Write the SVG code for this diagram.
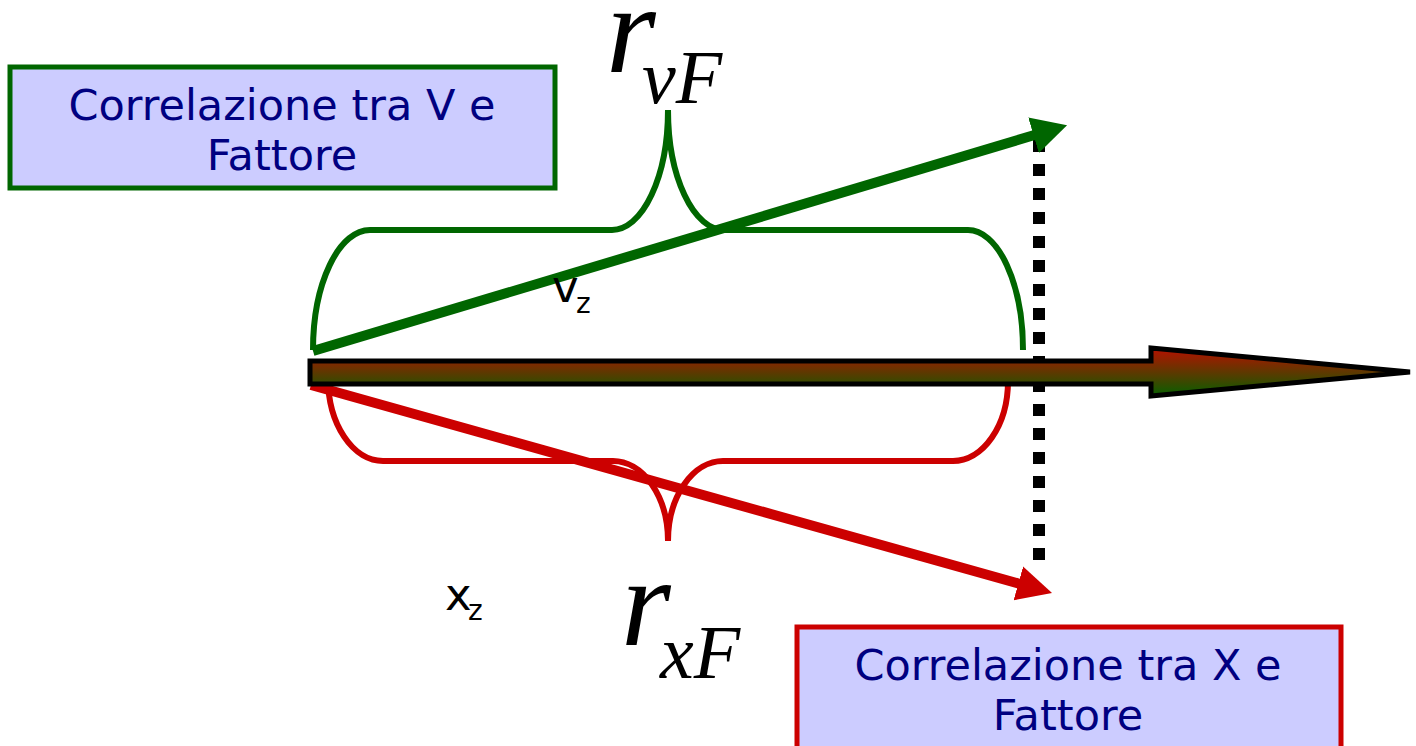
<svg xmlns="http://www.w3.org/2000/svg" width="1416" height="746" viewBox="0 0 1416 746">
<style>
.box-g{fill:#ccccff;stroke:#006600;stroke-width:5}
.box-r{fill:#ccccff;stroke:#cc0000;stroke-width:5}
.lbl{font-family:"DejaVu Sans",sans-serif;font-size:43px;fill:#000080;text-anchor:middle}
.brace{fill:none;stroke-width:6}
.vec{fill:none;stroke-width:10}
.sym{font-family:"DejaVu Sans",sans-serif;fill:#000000}
.math{font-family:"Liberation Serif",serif;font-style:italic;fill:#000000}
</style>
<defs>
<linearGradient id="grad" x1="0" y1="0" x2="0" y2="1">
<stop offset="0" stop-color="#b81000"/>
<stop offset="1" stop-color="#066000"/>
</linearGradient>
<marker id="ahG" markerUnits="userSpaceOnUse" markerWidth="38" markerHeight="40" viewBox="0 -20 38 40" refX="1" refY="0" orient="auto">
<path d="M0,-18.5 L35,0 L0,18.5 Z" fill="#006600"/>
</marker>
<marker id="ahR" markerUnits="userSpaceOnUse" markerWidth="38" markerHeight="40" viewBox="0 -20 38 40" refX="1" refY="0" orient="auto">
<path d="M0,-17.5 L35,0 L0,17.5 Z" fill="#cc0000"/>
</marker>
</defs>
<rect width="1416" height="746" fill="#ffffff"/>

<g id="connectors">
<line x1="1039" y1="140" x2="1039" y2="561" stroke="#000000" stroke-width="12" stroke-dasharray="12 12"/>
<path class="brace" stroke="#006600" d="M313,350 A57,120 0 0 1 370,230 L612,230 A56,120 0 0 0 668,110 A56,120 0 0 0 724,230 L968,230 A55,120 0 0 1 1023,350"/>
<path class="brace" stroke="#cc0000" d="M328,378 A55,83 0 0 0 383,461 L613,461 A55,80 0 0 1 668,541 A55,80 0 0 1 723,461 L953,461 A55,80 0 0 0 1008,381"/>
<line class="vec" stroke="#006600" x1="313" y1="351" x2="1034.5" y2="135" marker-end="url(#ahG)"/>
<line class="vec" stroke="#cc0000" x1="311" y1="385" x2="1019.3" y2="583.7" marker-end="url(#ahR)"/>
</g>

<g id="axis">
<path d="M310,361 L1151,361 L1151,348 L1410,372 L1151,396 L1151,384 L310,384 Z" fill="url(#grad)" stroke="#000000" stroke-width="5"/>
</g>

<g id="box-v">
<rect class="box-g" x="10" y="67" width="545" height="121"/>
<text class="lbl" x="282" y="120">Correlazione tra V e</text>
<text class="lbl" x="282" y="170">Fattore</text>
</g>

<g id="box-x">
<rect class="box-r" x="797" y="627" width="544" height="125"/>
<text class="lbl" x="1068" y="680">Correlazione tra X e</text>
<text class="lbl" x="1068" y="730">Fattore</text>
</g>

<g id="label-vz">
<text class="sym" x="552" y="302" font-size="45">v<tspan x="576" y="313" font-size="28">z</tspan></text>
</g>
<g id="label-xz">
<text class="sym" x="445" y="610" font-size="45">x<tspan x="468" y="620" font-size="28">z</tspan></text>
</g>

<g id="label-rvF">
<text class="math" x="606" y="72" font-size="128">r<tspan x="642" y="103" font-size="76">vF</tspan></text>
</g>
<g id="label-rxF">
<text class="math" x="621" y="645" font-size="128">r<tspan x="660" y="678" font-size="76">xF</tspan></text>
</g>
</svg>
